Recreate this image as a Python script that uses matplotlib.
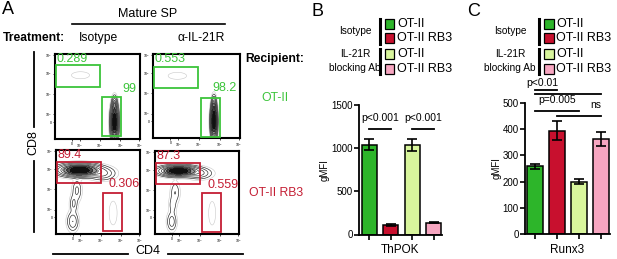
import numpy as np
import matplotlib.pyplot as plt
from matplotlib.patches import Rectangle

plt.rcParams['font.family'] = ['Liberation Sans', 'DejaVu Sans']

W, H = 617, 259

# ---- data ----
groups = ['OT-II', 'OT-II RB3', 'OT-II', 'OT-II RB3']
bar_colors = ['#2db52a', '#c8102e', '#d8f59c', '#f7a6c1']

thpok_mean = [1040, 110, 1040, 137]
thpok_err = [65, 15, 70, 6]

runx3_mean = [258, 395, 200, 362]
runx3_err = [10, 37, 9, 26]

# flow gates: percentages (CD8 SP gate, CD4 SP gate)
gate_pct = {
    'iso_ot2': ['0.289', '99'],
    'ab_ot2': ['0.553', '98.2'],
    'iso_rb3': ['89.4', '0.306'],
    'ab_rb3': ['87.3', '0.559'],
}
# gate rectangles (x0, x1, y0, y1) on display scale 0..1
cd8_gate = {'iso_ot2': (0.01, 0.53, 0.61, 0.87), 'ab_ot2': (0.015, 0.52, 0.60, 0.85),
            'iso_rb3': (0.01, 0.54, 0.61, 0.86), 'ab_rb3': (0.01, 0.53, 0.60, 0.86)}
cd4_gate = {'iso_ot2': (0.55, 0.78, 0.04, 0.50), 'ab_ot2': (0.55, 0.77, 0.01, 0.48),
            'iso_rb3': (0.56, 0.79, 0.03, 0.49), 'ab_rb3': (0.56, 0.79, 0.02, 0.49)}
# cell populations: (cx, cy, sx, sy, amplitude)
populations = {
    'iso_ot2': [(0.70, 0.20, 0.022, 0.10, 1.0), (0.70, 0.40, 0.015, 0.05, 0.25),
                (0.30, 0.75, 0.09, 0.035, 0.012)],
    'ab_ot2': [(0.70, 0.20, 0.018, 0.10, 1.0), (0.70, 0.38, 0.013, 0.06, 0.25),
               (0.28, 0.74, 0.09, 0.035, 0.012)],
    'iso_rb3': [(0.28, 0.76, 0.12, 0.035, 1.0), (0.55, 0.72, 0.08, 0.04, 0.12),
                (0.25, 0.52, 0.03, 0.07, 0.06), (0.21, 0.36, 0.025, 0.06, 0.06),
                (0.20, 0.15, 0.035, 0.06, 0.10), (0.68, 0.25, 0.04, 0.12, 0.012)],
    'ab_rb3': [(0.28, 0.76, 0.11, 0.03, 1.0), (0.52, 0.73, 0.08, 0.035, 0.12),
               (0.24, 0.50, 0.03, 0.07, 0.05), (0.21, 0.35, 0.025, 0.06, 0.04),
               (0.20, 0.15, 0.03, 0.06, 0.08), (0.68, 0.25, 0.035, 0.12, 0.012)],
}
flow_ticks = [0.20, 0.29, 0.53, 0.77, 0.99]
flow_ticklabels = ['0', '10$^3$', '10$^4$', '10$^5$', '10$^6$']

green_txt = '#3cc43a'
red_txt = '#c41e34'


def ax_px(x0, y0, x1, y1):
    return fig.add_axes([x0 / W, 1 - y1 / H, (x1 - x0) / W, (y1 - y0) / H])


def flow_panel(ax, key, gcol):
    g = np.linspace(0, 1, 220)
    X, Y = np.meshgrid(g, g)
    Z = np.zeros_like(X)
    for cx, cy, sx, sy, a in populations[key]:
        Z += a * np.exp(-((X - cx) ** 2 / (2 * sx ** 2) + (Y - cy) ** 2 / (2 * sy ** 2)))
    Z /= Z.max()
    ax.contourf(X, Y, Z, levels=[0.25, 0.45, 0.65, 1.01],
                colors=['#9a9a9a', '#4a4a4a', '#101010'])
    ax.contour(X, Y, Z, levels=[0.006], colors='#c8c8c8', linewidths=0.4)
    ax.contour(X, Y, Z, levels=[0.02, 0.05, 0.1, 0.18, 0.3, 0.45],
               colors='#222222', linewidths=0.45)
    for (x0, x1, y0, y1) in (cd8_gate[key], cd4_gate[key]):
        ax.add_patch(Rectangle((x0, y0), x1 - x0, y1 - y0, fill=False,
                               edgecolor=gcol, lw=1.3, zorder=5))
    p8, p4 = gate_pct[key]
    ax.text(0.02, 1.01, p8, color=gcol, fontsize=9, ha='left', va='top', zorder=6)
    ax.text(0.96 if len(p4) < 5 else 1.0, 0.59, p4, color=gcol, fontsize=9,
            ha='right', va='center', zorder=6)
    ax.set_xlim(0, 1)
    ax.set_ylim(0, 1)
    ax.set_xticks(flow_ticks)
    ax.set_yticks(flow_ticks)
    ax.set_xticklabels(flow_ticklabels, fontsize=2.5)
    ax.set_yticklabels(flow_ticklabels, fontsize=2.5)
    ax.tick_params(length=1.2, width=0.5, pad=1)
    for s in ax.spines.values():
        s.set_linewidth(1.5)


def bar_panel(ax, mean, err, ymax, yticks, xlabel):
    x = np.arange(len(mean))
    ax.bar(x, mean, width=0.70, color=bar_colors, edgecolor='black', lw=1.1, zorder=2)
    ax.errorbar(x, mean, yerr=err, fmt='none', ecolor='black', elinewidth=1.2,
                capsize=3.5, capthick=1.2, zorder=3)
    ax.set_ylim(0, ymax)
    ax.set_yticks(yticks)
    ax.set_xticks(x)
    ax.set_xticklabels([])
    ax.tick_params(axis='y', labelsize=7, length=3.5, width=1.2, pad=1)
    ax.tick_params(axis='x', length=3.5, width=1.2)
    for s in ['top', 'right']:
        ax.spines[s].set_visible(False)
    for s in ['left', 'bottom']:
        ax.spines[s].set_linewidth(1.3)
    ax.set_ylabel('gMFI', fontsize=7, labelpad=1)
    ax.set_xlabel(xlabel, fontsize=8.5, labelpad=0)


def legend_block(xc, xbar):
    t = fig.transFigure
    def fx(px):
        return px / W
    def fy(py):
        return 1 - py / H
    fig.text(fx(xc), fy(31), 'Isotype', fontsize=7.3, ha='center', va='center')
    fig.text(fx(xc), fy(54), 'IL-21R', fontsize=7.3, ha='center', va='center')
    fig.text(fx(xc), fy(68), 'blocking Ab', fontsize=7.3, ha='center', va='center')
    for (ya, yb) in ((19, 44), (49, 74)):
        fig.add_artist(plt.Line2D([fx(xbar), fx(xbar)], [fy(ya), fy(yb)],
                                  color='black', lw=2.2, transform=t))
    for yc, col, lab in zip([24, 38, 54, 69], bar_colors, groups):
        fig.add_artist(Rectangle((fx(xbar + 5), fy(yc + 4.5)), 9.5 / W, 9 / H,
                                 facecolor=col, edgecolor='black', lw=0.9, transform=t))
        fig.text(fx(xbar + 17), fy(yc), lab, fontsize=9, ha='left', va='center')


fig = plt.figure(figsize=(W / 100, H / 100), dpi=100)

# ---- panel A ----
fig.text(2 / W, 1 - 10 / H, 'A', fontsize=13, ha='left', va='center')
fig.text(148 / W, 1 - 14 / H, 'Mature SP', fontsize=9, ha='center', va='center')
fig.add_artist(plt.Line2D([72 / W, 225 / W], [1 - 24 / H] * 2, color='black', lw=1.2))
fig.text(3 / W, 1 - 38 / H, 'Treatment:', fontsize=8.7, fontweight='bold', ha='left', va='center')
fig.text(98 / W, 1 - 38 / H, 'Isotype', fontsize=8.7, ha='center', va='center')
fig.text(201 / W, 1 - 38 / H, 'α-IL-21R', fontsize=8.7, ha='center', va='center')
fig.text(245 / W, 1 - 59 / H, 'Recipient:', fontsize=8.7, fontweight='bold', ha='left', va='center')
fig.text(275 / W, 1 - 98 / H, 'OT-II', fontsize=8.8, color=green_txt, ha='center', va='center')
fig.text(276 / W, 1 - 193 / H, 'OT-II RB3', fontsize=8.8, color=red_txt, ha='center', va='center')

fig.text(33 / W, 1 - 143 / H, 'CD8', fontsize=9, rotation=90, ha='center', va='center')
fig.add_artist(plt.Line2D([34 / W] * 2, [1 - 52 / H, 1 - 127 / H], color='black', lw=1.3))
fig.add_artist(plt.Line2D([34 / W] * 2, [1 - 161 / H, 1 - 232 / H], color='black', lw=1.3))
fig.text(148 / W, 1 - 251 / H, 'CD4', fontsize=9, ha='center', va='center')
fig.add_artist(plt.Line2D([53 / W, 128 / W], [1 - 254 / H] * 2, color='black', lw=1.3))
fig.add_artist(plt.Line2D([168 / W, 243 / W], [1 - 254 / H] * 2, color='black', lw=1.3))

flow_panel(ax_px(55, 54, 140, 139), 'iso_ot2', green_txt)
flow_panel(ax_px(153, 54, 240, 138), 'ab_ot2', green_txt)
flow_panel(ax_px(56, 150, 140, 234), 'iso_rb3', red_txt)
flow_panel(ax_px(155, 151, 239, 234), 'ab_rb3', red_txt)

# ---- panel B ----
fig.text(312 / W, 1 - 12 / H, 'B', fontsize=13, ha='left', va='center')
legend_block(355, 380)
axb = ax_px(359, 105, 441.5, 234.5)
bar_panel(axb, thpok_mean, thpok_err, 1500, [0, 500, 1000, 1500], 'ThPOK')
axb.set_xlim(-0.47, 3.37)
for (a, b) in ((0, 1), (2, 3)):
    axb.plot([a, b], [1220, 1220], color='black', lw=1.3, clip_on=False)
    axb.text((a + b) / 2, 1290, 'p<0.001', fontsize=7.5, ha='center', va='bottom')

# ---- panel C ----
fig.text(467 / W, 1 - 12 / H, 'C', fontsize=13, ha='left', va='center')
legend_block(510, 539)
axc = ax_px(525, 103, 610, 234)
bar_panel(axc, runx3_mean, runx3_err, 500, [0, 100, 200, 300, 400, 500], 'Runx3')
axc.set_xlim(-0.455, 3.41)
sig_c = [((0, 1), 549, None), ((0, 3), 534, 'p<0.01'), ((0, 2), 471, 'p=0.005'), ((1, 3), 450, 'ns')]
for (a, b), yv, lab in sig_c:
    axc.plot([a, b], [yv, yv], color='black', lw=1.3, clip_on=False)
for (a, b), yv, lab, xt in [((0, 3), 556, 'p<0.01', 0.35), ((0, 2), 493, 'p=0.005', 1.0),
                            ((1, 3), 472, 'ns', 2.75)]:
    axc.text(xt, yv, lab, fontsize=7.5, ha='center', va='bottom')

fig.savefig('out.png', dpi=100)
